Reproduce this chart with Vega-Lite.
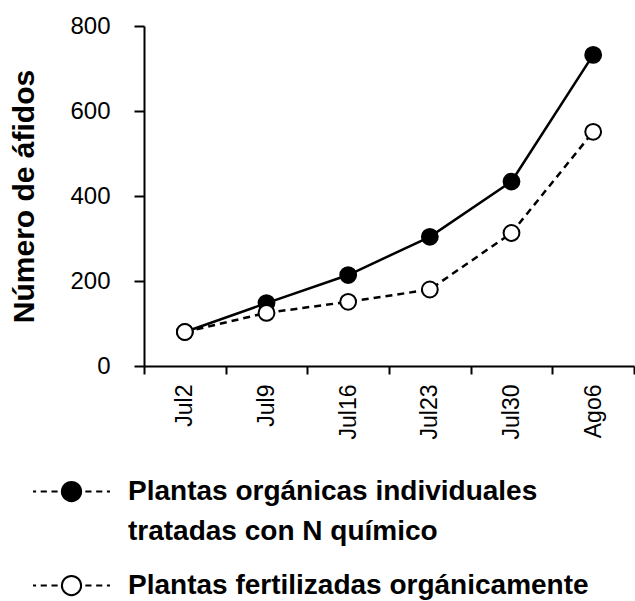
{
  "$schema": "https://vega.github.io/schema/vega-lite/v6.json",
  "autosize": "none",
  "width": 490,
  "height": 340,
  "padding": {"left": 144, "top": 26, "right": 1, "bottom": 235},
  "background": "white",
  "config": {"view": {"stroke": null}, "font": "Liberation Sans", "style": {"guide-label": {"lineHeight": 40}}},
  "data": {
    "values": [
      {"fecha": "Jul2", "serie": "Plantas orgánicas individuales tratadas con N químico", "afidos": 80},
      {"fecha": "Jul9", "serie": "Plantas orgánicas individuales tratadas con N químico", "afidos": 148},
      {"fecha": "Jul16", "serie": "Plantas orgánicas individuales tratadas con N químico", "afidos": 214},
      {"fecha": "Jul23", "serie": "Plantas orgánicas individuales tratadas con N químico", "afidos": 304},
      {"fecha": "Jul30", "serie": "Plantas orgánicas individuales tratadas con N químico", "afidos": 434},
      {"fecha": "Ago6", "serie": "Plantas orgánicas individuales tratadas con N químico", "afidos": 732},
      {"fecha": "Jul2", "serie": "Plantas fertilizadas orgánicamente", "afidos": 80},
      {"fecha": "Jul9", "serie": "Plantas fertilizadas orgánicamente", "afidos": 125},
      {"fecha": "Jul16", "serie": "Plantas fertilizadas orgánicamente", "afidos": 151},
      {"fecha": "Jul23", "serie": "Plantas fertilizadas orgánicamente", "afidos": 180},
      {"fecha": "Jul30", "serie": "Plantas fertilizadas orgánicamente", "afidos": 313},
      {"fecha": "Ago6", "serie": "Plantas fertilizadas orgánicamente", "afidos": 551}
    ]
  },
  "encoding": {
    "x": {
      "field": "fecha", "type": "ordinal", "sort": null,
      "scale": {"type": "band", "paddingInner": 0, "paddingOuter": 0},
      "axis": {
        "title": null, "labelAngle": 270, "labelFontSize": 23, "labelColor": "black",
        "labelFont": "Liberation Sans", "tickBand": "extent", "tickSize": 8, "tickWidth": 2,
        "tickColor": "black", "domainColor": "black", "domainWidth": 2, "labelPadding": 10,
        "grid": false
      }
    },
    "y": {
      "field": "afidos", "type": "quantitative",
      "scale": {"domain": [0, 800], "nice": false},
      "axis": {
        "title": "Número de áfidos", "titleFontSize": 30, "titleFontWeight": "bold", "titleColor": "black",
        "titleFont": "Liberation Sans", "titlePadding": 30,
        "values": [0, 200, 400, 600, 800], "labelFontSize": 24, "labelColor": "black",
        "labelFont": "Liberation Sans", "labelPadding": 24, "tickSize": 10, "tickWidth": 2,
        "tickColor": "black", "domainColor": "black", "domainWidth": 2, "grid": false
      }
    }
  },
  "layer": [
    {
      "transform": [{"filter": "datum.serie == 'Plantas orgánicas individuales tratadas con N químico'"}],
      "mark": {"type": "line", "color": "black", "strokeWidth": 2.5},
      "encoding": {}
    },
    {
      "transform": [{"filter": "datum.serie == 'Plantas fertilizadas orgánicamente'"}],
      "mark": {"type": "line", "color": "black", "strokeWidth": 2.5, "strokeDash": [7, 5]},
      "encoding": {}
    },
    {
      "mark": {"type": "point", "shape": "circle", "size": 250, "stroke": "black", "strokeWidth": 2, "opacity": 1, "filled": true},
      "encoding": {
        "color": {
          "field": "serie", "type": "nominal",
          "scale": {
            "domain": ["Plantas orgánicas individuales tratadas con N químico", "Plantas fertilizadas orgánicamente"],
            "range": ["black", "white"]
          },
          "legend": {
            "title": null, "orient": "none", "legendX": -112, "legendY": 426, "direction": "vertical",
            "symbolType": "M-1,0L-0.92,0M-0.8,0L-0.64,0M-0.52,0L-0.36,0M0.36,0L0.52,0M0.64,0L0.8,0M0.92,0L1,0M0.25,0A0.25,0.25,0,1,1,-0.25,0A0.25,0.25,0,1,1,0.25,0Z",
            "symbolSize": 5929, "symbolStrokeColor": "black", "symbolStrokeWidth": 2, "symbolOpacity": 1,
            "labelFontSize": 28, "labelFontWeight": "bold", "labelFont": "Liberation Sans", "labelColor": "black",
            "labelLimit": 600, "labelOffset": 17, "rowPadding": 0,
            "labelExpr": "datum.label == 'Plantas orgánicas individuales tratadas con N químico' ? ['Plantas orgánicas individuales', 'tratadas con N químico'] : datum.label"
          }
        }
      }
    }
  ]
}
